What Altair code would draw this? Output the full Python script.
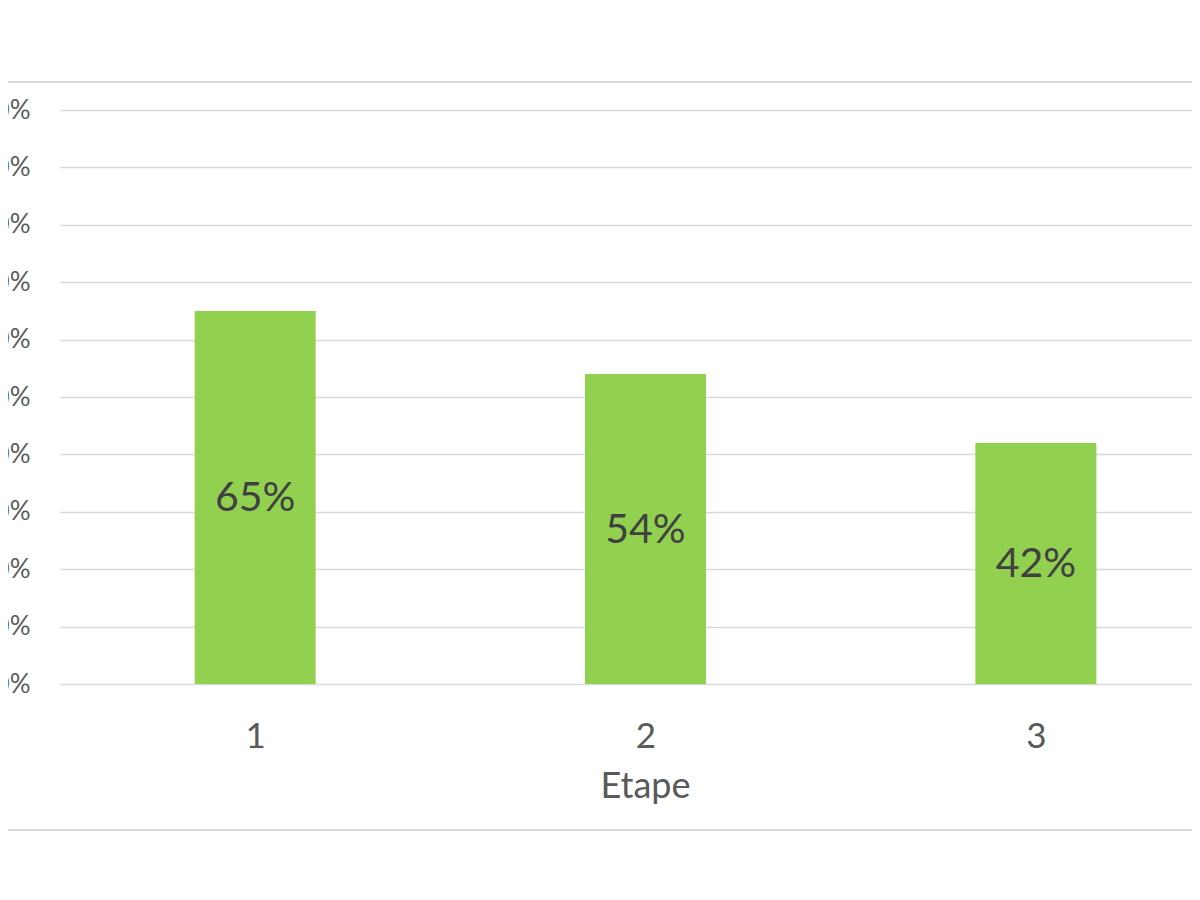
import altair as alt
import pandas as pd

# Data
etapes = [1, 2, 3]
taux = [0.65, 0.54, 0.42]
y_ticks = [0.0, 0.1, 0.2, 0.3, 0.4, 0.5, 0.6, 0.7, 0.8, 0.9, 1.0]

df = pd.DataFrame({"Etape": etapes, "Taux": taux})

W, H = 1132, 574
FONT = "Lato"
GRID = "#D9D9D9"
LABEL = "#595959"

x_enc = alt.X(
    "Etape:Q",
    scale=alt.Scale(domain=[0.5, 3.4], nice=False, zero=False, padding=0),
    axis=alt.Axis(
        values=etapes, format="d", grid=False, ticks=False, tickSize=0, domain=False,
        labelFont=FONT, labelFontSize=35, labelColor=LABEL, labelPadding=35,
        titleFont=FONT, titleFontSize=36, titleFontWeight="normal", titleColor=LABEL,
        titlePadding=15, titleX=585, titleAnchor="start", titleAlign="center",
    ),
    title="Etape",
)

y_enc = alt.Y(
    "Taux:Q",
    scale=alt.Scale(domain=[0, 1], nice=False),
    axis=alt.Axis(
        values=y_ticks, format=".0%", title=None, ticks=False, tickSize=0, domain=False,
        labelFont=FONT, labelFontSize=26, labelColor=LABEL, labelPadding=30,
        gridColor=GRID, gridWidth=1.5,
    ),
)

base = alt.Chart(df)

bars = base.mark_bar(size=121, color="#92D050").encode(x=x_enc, y=y_enc)

labels = base.transform_calculate(mid="datum.Taux / 2").mark_text(
    font=FONT, fontSize=41, color="#404040", baseline="middle", align="center", dy=2
).encode(
    x=alt.X("Etape:Q"),
    y=alt.Y("mid:Q"),
    text=alt.Text("Taux:Q", format=".0%"),
)

blank = alt.Chart(alt.Data(values=[{}]))
top_rule = blank.mark_rule(color=GRID, strokeWidth=2).encode(
    x=alt.value(-52), x2=alt.value(W), y=alt.value(-28)
)
bottom_rule = blank.mark_rule(color=GRID, strokeWidth=2).encode(
    x=alt.value(-52), x2=alt.value(W), y=alt.value(720)
)

chart = alt.layer(top_rule, bottom_rule, bars, labels).properties(
    width=W,
    height=H,
    autosize=alt.AutoSizeParams(type="none"),
    padding={"left": 52, "top": 102, "right": 0, "bottom": 160},
    background="white",
).configure_view(stroke=None)

chart.save("out.html", embed_options={"renderer": "svg", "actions": False})
